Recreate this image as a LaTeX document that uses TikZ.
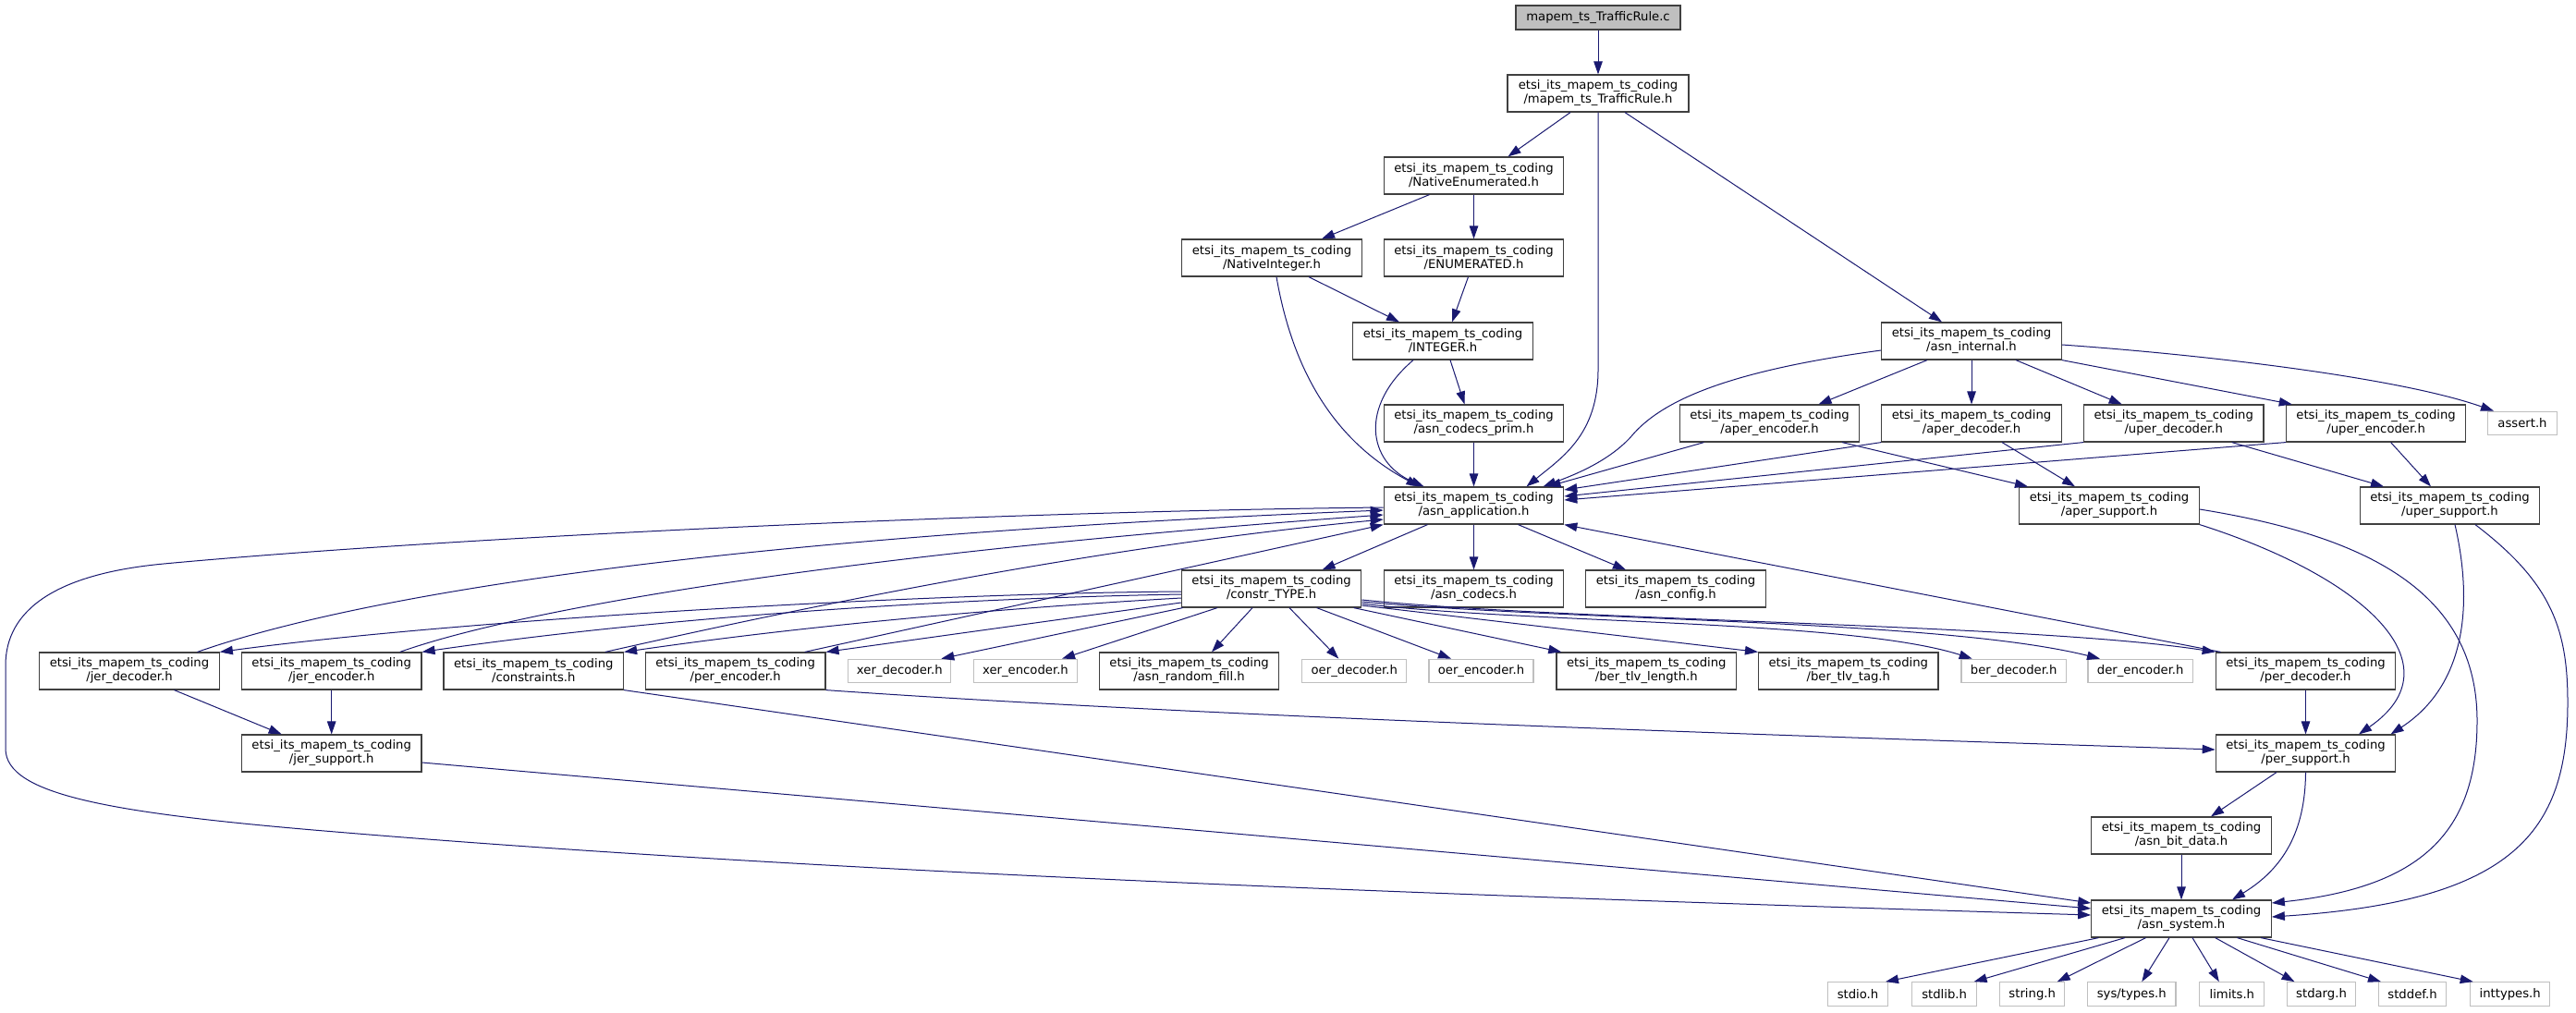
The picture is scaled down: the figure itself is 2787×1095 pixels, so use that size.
\documentclass[tikz,border=0pt]{standalone}
\usepackage{fontspec}
\setmainfont{DejaVu Sans}
\usetikzlibrary{arrows.meta}
\definecolor{edgec}{HTML}{191970}
\definecolor{bordc}{HTML}{404040}
\definecolor{grayb}{HTML}{BFBFBF}
\newcommand{\etsipfx}{etsi\_its\_mapem\_ts\_coding\\}
\begin{document}
\begin{tikzpicture}[x=1pt,y=-1pt,
  font=\fontsize{13.2}{15}\selectfont,
  hdr/.style={draw=bordc, line width=1.2pt, fill=white, rectangle, inner sep=0pt, minimum width=194.5pt, minimum height=40pt, align=center},
  ext/.style={draw=grayb, line width=1.2pt, fill=white, rectangle, inner sep=0pt, minimum height=25.5pt},
  rootn/.style={draw=bordc, line width=1.2pt, fill=grayb, rectangle, inner sep=0pt, minimum width=178pt, minimum height=26pt},
  dep/.style={draw=edgec, line width=1pt, -{Triangle[length=14pt,width=9.5pt]}}
]
\useasboundingbox[fill=white] (0,0) rectangle (2787,1095);

% nodes
\node[rootn] (root) at (1729,19) {mapem\_ts\_TrafficRule.c};
\node[hdr, minimum width=196pt] (trh) at (1729,101) {\etsipfx/mapem\_ts\_TrafficRule.h};
\node[hdr] (ne) at (1594.5,190) {\etsipfx/NativeEnumerated.h};
\node[hdr] (ni) at (1376,279) {\etsipfx/NativeInteger.h};
\node[hdr] (en) at (1594.5,279) {\etsipfx/ENUMERATED.h};
\node[hdr] (int) at (1561,369) {\etsipfx/INTEGER.h};
\node[hdr] (ai) at (2133,369) {\etsipfx/asn\_internal.h};
\node[hdr] (acp) at (1594.5,458) {\etsipfx/asn\_codecs\_prim.h};
\node[hdr] (aenc) at (1914.5,458) {\etsipfx/aper\_encoder.h};
\node[hdr] (adec) at (2133,458) {\etsipfx/aper\_decoder.h};
\node[hdr] (udec) at (2351.7,458) {\etsipfx/uper\_decoder.h};
\node[hdr] (uenc) at (2570.6,458) {\etsipfx/uper\_encoder.h};
\node[ext, minimum width=75pt] (assert) at (2729,458) {assert.h};
\node[hdr] (app) at (1594.5,547) {\etsipfx/asn\_application.h};
\node[hdr] (asup) at (2282,547) {\etsipfx/aper\_support.h};
\node[hdr] (usup) at (2650.5,547) {\etsipfx/uper\_support.h};
\node[hdr] (ctype) at (1375.6,637) {\etsipfx/constr\_TYPE.h};
\node[hdr] (codecs) at (1594.5,637) {\etsipfx/asn\_codecs.h};
\node[hdr] (config) at (1813,637) {\etsipfx/asn\_config.h};
\node[hdr] (jerdec) at (140,726) {\etsipfx/jer\_decoder.h};
\node[hdr] (jerenc) at (358.7,726) {\etsipfx/jer\_encoder.h};
\node[hdr] (constr) at (577.3,726) {\etsipfx/constraints.h};
\node[hdr] (perenc) at (795.7,726) {\etsipfx/per\_encoder.h};
\node[ext, minimum width=111pt] (xerdec) at (973.3,726) {xer\_decoder.h};
\node[ext, minimum width=112.7pt] (xerenc) at (1109.5,726) {xer\_encoder.h};
\node[hdr] (rnd) at (1286.6,726) {\etsipfx/asn\_random\_fill.h};
\node[ext, minimum width=113pt] (oerdec) at (1465.3,726) {oer\_decoder.h};
\node[ext, minimum width=113pt] (oerenc) at (1602.5,726) {oer\_encoder.h};
\node[hdr] (bertl) at (1781.3,726) {\etsipfx/ber\_tlv\_length.h};
\node[hdr] (bertag) at (1999.8,726) {\etsipfx/ber\_tlv\_tag.h};
\node[ext, minimum width=113.4pt] (berdec) at (2178.7,726) {ber\_decoder.h};
\node[ext, minimum width=113.4pt] (derenc) at (2315.7,726) {der\_encoder.h};
\node[hdr] (perdec) at (2494.5,726) {\etsipfx/per\_decoder.h};
\node[hdr] (jersup) at (358.7,815) {\etsipfx/jer\_support.h};
\node[hdr] (persup) at (2494.5,815) {\etsipfx/per\_support.h};
\node[hdr] (bitdata) at (2360,904) {\etsipfx/asn\_bit\_data.h};
\node[hdr] (system) at (2360,994) {\etsipfx/asn\_system.h};
\node[ext, minimum width=65.5pt] (stdio) at (2010,1075.5) {stdio.h};
\node[ext, minimum width=70pt] (stdlib) at (2103.6,1075.5) {stdlib.h};
\node[ext, minimum width=70pt] (string) at (2198.7,1075.5) {string.h};
\node[ext, minimum width=95.3pt] (systypes) at (2306.3,1075.5) {sys/types.h};
\node[ext, minimum width=70pt] (limits) at (2414.8,1075.5) {limits.h};
\node[ext, minimum width=73.5pt] (stdarg) at (2511.5,1075.5) {stdarg.h};
\node[ext, minimum width=73.7pt] (stddef) at (2610,1075.5) {stddef.h};
\node[ext, minimum width=86pt] (inttypes) at (2715.7,1075.5) {inttypes.h};

% edges
\draw[dep] (root.south) -- (trh.north);
\draw[dep] ([xshift=-30pt]trh.south) -- ([xshift=37pt]ne.north);
\draw[dep] (trh.south) -- (1729,400) .. controls (1729,470) and (1690,495) .. ([xshift=57pt]app.north);
\draw[dep] ([xshift=29pt]trh.south) -- ([xshift=-32pt]ai.north);
\draw[dep] ([xshift=-48pt]ne.south) -- ([xshift=54pt]ni.north);
\draw[dep] (ne.south) -- (en.north);
\draw[dep] ([xshift=40pt]ni.south) -- ([xshift=-47pt]int.north);
\draw[dep] ([xshift=5pt]ni.south) .. controls (1395,380) and (1430,470) .. ([xshift=-59pt]app.north);
\draw[dep] ([xshift=-6pt]en.south) -- ([xshift=10pt]int.north);
\draw[dep] ([xshift=8pt]int.south) -- ([xshift=-10pt]acp.north);
\draw[dep] ([xshift=-32pt]int.south) .. controls (1470,440) and (1480,500) .. ([xshift=-54pt]app.north);
\draw[dep] (acp.south) -- (app.north);
\draw[dep] ([yshift=-10pt]ai.west) .. controls (1880,400) and (1800,430) .. (1765,472) .. controls (1740,500) and (1700,515) .. ([xshift=75pt]app.north);
\draw[dep] ([xshift=-48pt]ai.south) -- ([xshift=53pt]aenc.north);
\draw[dep] (ai.south) -- (adec.north);
\draw[dep] ([xshift=48pt]ai.south) -- ([xshift=-56pt]udec.north);
\draw[dep] (ai.south east) -- ([xshift=7pt]uenc.north west);
\draw[dep] ([yshift=-4pt]ai.east) .. controls (2400,385) and (2600,410) .. ([xshift=-31pt]assert.north);
\draw[dep] ([xshift=-71pt]aenc.south) -- ([xshift=80pt]app.north);
\draw[dep] ([xshift=78.5pt]aenc.south) -- ([xshift=-88pt]asup.north);
\draw[dep] ([xshift=33pt]adec.south) -- ([xshift=-37pt]asup.north);
\draw[dep] ([xshift=63pt]udec.south) -- ([xshift=-71.5pt]usup.north);
\draw[dep] (adec.south west) -- ([yshift=17pt]app.east);
\draw[dep] (udec.south west) -- ([yshift=10pt]app.east);
\draw[dep] (uenc.south west) -- ([yshift=6pt]app.east);
\draw[dep] ([xshift=16pt]uenc.south) -- ([xshift=-20.5pt]usup.north);
\draw[dep] (asup.south east) .. controls (2560,625) and (2660,720) .. ([xshift=57.5pt]persup.north);
\draw[dep] ([yshift=-4pt]asup.east) .. controls (2560,580) and (2680,640) .. (2680,780) .. controls (2680,900) and (2620,960) .. ([yshift=17pt]system.east);
\draw[dep] ([xshift=5.5pt]usup.south) .. controls (2675,650) and (2670,740) .. ([xshift=92pt]persup.north);
\draw[dep] ([xshift=27.5pt]usup.south) .. controls (2760,630) and (2778,680) .. (2778,760) .. controls (2778,900) and (2720,975) .. ([yshift=2pt]system.east);
\draw[dep] ([xshift=-31.5pt]persup.south) -- ([xshift=32pt]bitdata.north);
\draw[dep] (persup.south) .. controls (2494,900) and (2470,940) .. ([xshift=55pt]system.north);
\draw[dep] (bitdata.south) -- (system.north);
\draw[dep] ([xshift=-89.5pt]system.south) -- ([xshift=30pt]stdio.north);
\draw[dep] ([xshift=-61pt]system.south) -- ([xshift=32pt]stdlib.north);
\draw[dep] ([xshift=-38.5pt]system.south) -- ([xshift=27pt]string.north);
\draw[dep] ([xshift=-13pt]system.south) -- ([xshift=11pt]systypes.north);
\draw[dep] ([xshift=12pt]system.south) -- ([xshift=-14pt]limits.north);
\draw[dep] ([xshift=36.7pt]system.south) -- ([xshift=-29pt]stdarg.north);
\draw[dep] ([xshift=60.4pt]system.south) -- ([xshift=-34pt]stddef.north);
\draw[dep] ([xshift=86pt]system.south) -- ([xshift=-40pt]inttypes.north);
\draw[dep] ([xshift=-50pt]app.south) -- ([xshift=55pt]ctype.north);
\draw[dep] (app.south) -- (codecs.north);
\draw[dep] ([xshift=48pt]app.south) -- ([xshift=-54pt]config.north);
\draw[dep] ([yshift=-2pt]app.west) .. controls (1100,553) and (500,580) .. (177,610) .. controls (60,621) and (6,660) .. (6,720) -- (6,810) .. controls (6,860) and (120,880) .. (363,900) .. controls (900,945) and (1600,970) .. ([yshift=4pt]system.west);
\draw[dep] ([xshift=73.5pt]jerdec.north) .. controls (400,640) and (800,580) .. ([yshift=-5pt]app.west);
\draw[dep] ([xshift=74pt]jerenc.north) .. controls (560,660) and (900,600) .. ([yshift=-10pt]app.west);
\draw[dep] ([xshift=77.5pt]constr.north) .. controls (900,650) and (1200,590) .. ([yshift=-15pt]app.west);
\draw[dep] ([xshift=75pt]perenc.north) -- (app.south west);
\draw[dep] ([xshift=48.5pt]jerdec.south) -- ([xshift=-54pt]jersup.north);
\draw[dep] (jerenc.south) -- (jersup.north);
\draw[dep] ([yshift=-10pt]jersup.east) -- ([yshift=11pt]system.west);
\draw[dep] (constr.south east) -- ([yshift=17pt]system.west);
\draw[dep] (perenc.south east) .. controls (1300,775) and (1900,795) .. ([yshift=4pt]persup.west);
\draw[dep] ([yshift=-3pt]ctype.west) .. controls (1000,642) and (500,670) .. (jerdec.north east);
\draw[dep] ([yshift=-6pt]ctype.west) .. controls (1000,648) and (700,670) .. (jerenc.north east);
\draw[dep] ([yshift=-10pt]ctype.west) .. controls (1050,660) and (850,680) .. (constr.north east);
\draw[dep] ([yshift=-15pt]ctype.west) -- (perenc.north east);
\draw[dep] ([xshift=-96pt]ctype.south) -- ([xshift=45pt]xerdec.north);
\draw[dep] ([xshift=-58.6pt]ctype.south) -- ([xshift=39.5pt]xerenc.north);
\draw[dep] ([xshift=-20.6pt]ctype.south) -- ([xshift=24.4pt]rnd.north);
\draw[dep] ([xshift=19.4pt]ctype.south) -- ([xshift=-17pt]oerdec.north);
\draw[dep] ([xshift=49pt]ctype.south) -- ([xshift=-32.5pt]oerenc.north);
\draw[dep] ([xshift=89pt]ctype.south) -- ([xshift=-92pt]bertl.north);
\draw[dep] ([yshift=-18pt]ctype.east) -- (bertag.north west);
\draw[dep] ([yshift=-16pt]ctype.east) .. controls (1650,675) and (2000,670) .. ([xshift=-45pt]berdec.north);
\draw[dep] ([yshift=-14pt]ctype.east) .. controls (1700,672) and (2100,670) .. ([xshift=-43.7pt]derenc.north);
\draw[dep] ([yshift=-12pt]ctype.east) .. controls (1700,672) and (2200,675) .. (perdec.north west);
\draw[dep] ([xshift=-92pt]perdec.north) -- (app.south east);
\draw[dep] (perdec.south) -- (persup.north);
\end{tikzpicture}
\end{document}
